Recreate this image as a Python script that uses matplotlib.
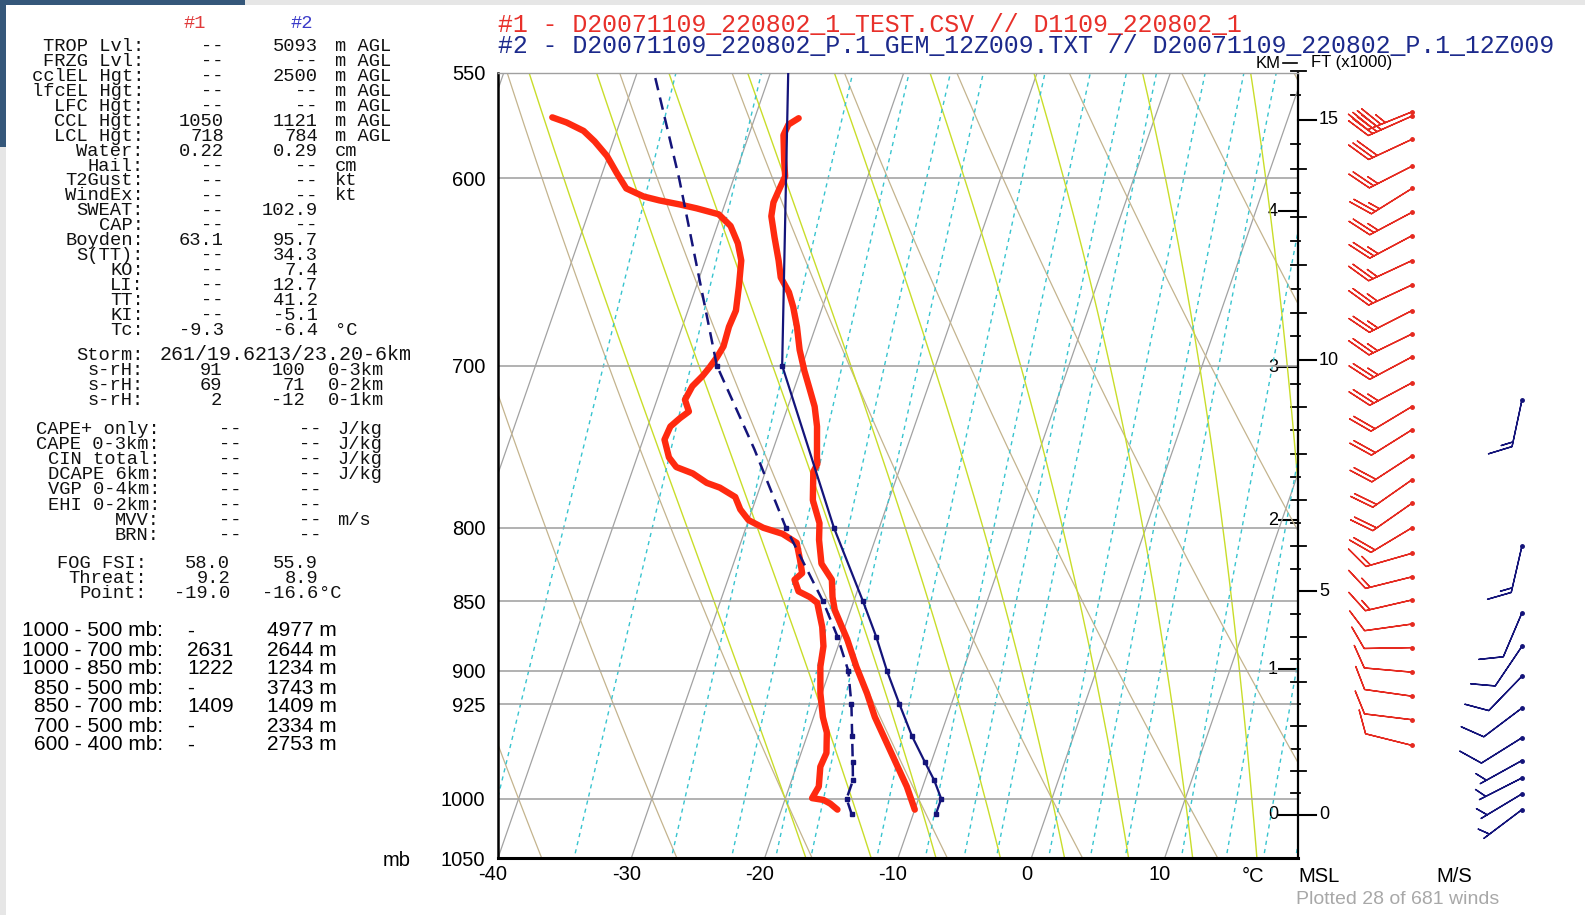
import numpy as np
import matplotlib
matplotlib.use("Agg")
import matplotlib.pyplot as plt
from matplotlib import transforms
from matplotlib.ticker import NullLocator, NullFormatter

W, H = 1585, 915

# sounding #1 (red) - temperature and dewpoint, bottom to top
p1_t = [1009, 990, 974, 953, 935, 917, 897, 877, 856, 847, 835, 824, 808, 797, 782, 764, 759, 755, 736, 724,
        714, 703, 691, 678, 667, 659, 651, 642, 630, 619, 612, 605, 599, 591, 579, 574, 571]
t1 = [-10.0, -11.2, -12.4, -14.0, -15.4, -16.6, -18.1, -19.5, -21.2, -21.7, -22.2, -23.4, -24.2, -24.6, -25.7,
      -26.4, -26.3, -26.5, -27.3, -28.0, -28.8, -29.7, -30.6, -31.4, -32.2, -32.9, -33.9, -34.5, -35.4, -36.2,
      -36.4, -36.3, -36.2, -36.7, -37.4, -37.3, -36.7]
p1_d = [1009, 1004, 1001, 999.5, 990, 974, 963, 947, 935, 917, 897, 882, 868, 851, 847, 843, 835, 830.5, 821.5, 810,
        804, 800, 795, 788, 780, 774, 771, 765, 761, 755, 744, 736, 731, 727, 720, 712, 706, 701, 695, 689,
        678, 669, 656, 642, 633, 624, 618, 615, 613, 611, 609, 605, 597.5, 589, 582, 577, 573, 570.6]
td1 = [-15.8, -16.5, -17.1, -18.0, -17.8, -18.2, -18.1, -18.6, -19.3, -20.1, -20.8, -21.1, -21.7, -22.7, -23.4,
       -24.4, -25.0, -24.6, -25.1, -25.8, -27.1, -28.7, -30.0, -30.9, -31.6, -33.0, -34.1, -35.4, -36.8, -37.6,
       -38.4, -38.3, -37.8, -37.3, -37.9, -37.7, -37.2, -36.9, -36.6, -36.4, -36.5, -36.4, -36.8, -37.3, -38.0,
       -39.0, -40.2, -42.0, -43.4, -45.0, -46.3, -47.8, -48.9, -50.1, -51.4, -52.5, -54.0, -55.2]

# sounding #2 (blue, model levels)
p2_t = [1013, 1000, 985, 970, 950, 925, 900, 875, 850, 800, 700, 500]
t2 = [-8.3, -8.3, -9.3, -10.5, -12.1, -13.9, -15.7, -17.4, -19.3, -23.4, -31.5, -41.5]
p2_d = [1013, 1000, 985, 970, 950, 925, 900, 875, 850, 800, 750, 700, 600, 500]
td2 = [-14.6, -15.4, -15.4, -15.9, -16.6, -17.5, -18.6, -20.3, -22.3, -27.0, -31.4, -36.4, -44.1, -53.8]
dew_marked = [1013, 1000, 985, 970, 950, 925, 900, 875, 850, 800, 700]

# winds (direction from, speed m/s)
p1_wind = [957, 937, 919, 901, 883, 866, 849, 833, 817, 800, 784, 769, 754, 738, 724, 710, 695, 682, 669, 655,
           642, 629, 617, 605, 594, 581, 570, 568]
dir1 = [284, 277, 278, 275, 269, 262, 257, 256, 254, 239, 235, 235, 237, 238, 239, 242, 242, 244, 243, 245,
        245, 242, 242, 238, 243, 245, 246, 248]
spd1 = [5, 5, 5, 5, 5, 5, 7.5, 7.5, 7.5, 10, 10, 10, 10, 10, 10, 12.5, 12.5, 12.5, 12.5, 12.5,
        12.5, 12.5, 12.5, 12.5, 12.5, 15, 20, 22.5]
p2_wind = [1009, 996, 983, 969, 951, 928, 904, 882, 858, 812, 720]
dir2 = [233, 239, 243, 241, 238, 233, 224, 214, 203, 193, 192]
spd2 = [2.5, 2.5, 2.5, 2.5, 5, 5, 5, 5, 5, 7.5, 7.5]

pres_labels = [550, 600, 700, 800, 850, 900, 925, 1000, 1050]
isobars = [600, 700, 800, 850, 900, 925, 1000]
temp_ticks = [-40, -30, -20, -10, 0, 10]
km_ticks = [0, 1, 2, 3, 4]
ft_major = [0, 5, 10, 15]

stats = [("TROP Lvl:", "--", "5093", "m AGL"), ("FRZG Lvl:", "--", "--", "m AGL"),
         ("cclEL Hgt:", "--", "2500", "m AGL"), ("lfcEL Hgt:", "--", "--", "m AGL"),
         ("LFC Hgt:", "--", "--", "m AGL"), ("CCL Hgt:", "1050", "1121", "m AGL"),
         ("LCL Hgt:", "718", "784", "m AGL"), ("Water:", "0.22", "0.29", "cm"),
         ("Hail:", "--", "--", "cm"), ("T2Gust:", "--", "--", "kt"), ("WindEx:", "--", "--", "kt"),
         ("SWEAT:", "--", "102.9", ""), ("CAP:", "--", "--", ""), ("Boyden:", "63.1", "95.7", ""),
         ("S(TT):", "--", "34.3", ""), ("KO:", "--", "7.4", ""), ("LI:", "--", "12.7", ""),
         ("TT:", "--", "41.2", ""), ("KI:", "--", "-5.1", ""), ("Tc:", "-9.3", "-6.4", "°C")]
helicity = [("s-rH:", "91", "100", "0-3km"), ("s-rH:", "69", "71", "0-2km"), ("s-rH:", "2", "-12", "0-1km")]
cape = [("CAPE+ only:", "--", "--", "J/kg"), ("CAPE 0-3km:", "--", "--", "J/kg"),
        ("CIN total:", "--", "--", "J/kg"), ("DCAPE 6km:", "--", "--", "J/kg"),
        ("VGP 0-4km:", "--", "--", ""), ("EHI 0-2km:", "--", "--", ""),
        ("MVV:", "--", "--", "m/s"), ("BRN:", "--", "--", "")]
fog = [("FOG FSI:", "58.0", "55.9", ""), ("Threat:", "9.2", "8.9", ""), ("Point:", "-19.0", "-16.6", "°C")]
thick = [("1000 - 500 mb:", "-", "4977 m"), ("1000 - 700 mb:", "2631", "2644 m"),
         ("1000 - 850 mb:", "1222", "1234 m"), ("850 - 500 mb:", "-", "3743 m"),
         ("850 - 700 mb:", "1409", "1409 m"), ("700 - 500 mb:", "-", "2334 m"),
         ("600 - 400 mb:", "-", "2753 m")]

RED = "#ff2a10"
NAVY = "#14147a"
MONO = ["Liberation Mono", "DejaVu Sans Mono"]
SANS = ["Liberation Sans", "DejaVu Sans"]
K = 31.6  # skew of isotherms
FS = 13.5


def skew(t, p):
    return np.asarray(t, float) + K * np.log(1050.0 / np.asarray(p, float))


def p_std(z):
    return 1013.25 * (1 - 0.0065 * z / 288.15) ** 5.2559


def es(t):
    return 6.112 * np.exp(17.67 * t / (t + 243.5))


def dtdp(t, p):
    tk = t + 273.15
    e = es(t)
    rs = 0.622 * e / (p - e)
    return (287.04 * tk + 2.501e6 * rs) / (1005.7 + 2.501e6 ** 2 * rs * 0.622 / (287.04 * tk ** 2)) / p


def moist(tw):
    parts = []
    for ps in (np.linspace(1000, 540, 231), np.linspace(1000, 1060, 31)):
        t = tw
        ts = [t]
        for a, b in zip(ps[:-1], ps[1:]):
            h = b - a
            k1 = dtdp(t, a)
            k2 = dtdp(t + h * k1 / 2, a + h / 2)
            k3 = dtdp(t + h * k2 / 2, a + h / 2)
            k4 = dtdp(t + h * k3, b)
            t = t + h * (k1 + 2 * k2 + 2 * k3 + k4) / 6
            ts.append(t)
        parts.append((ps, np.array(ts)))
    p = np.concatenate([parts[1][0][::-1], parts[0][0][1:]])
    t = np.concatenate([parts[1][1][::-1], parts[0][1][1:]])
    return p, t


fig = plt.figure(figsize=(W / 100, H / 100), dpi=100)
ov = fig.add_axes([0, 0, 1, 1])
ov.set_xlim(0, W)
ov.set_ylim(H, 0)
ov.axis("off")

# screenshot borders
ov.add_patch(plt.Rectangle((0, 0), W, 5, color="#e6e6e6", lw=0))
ov.add_patch(plt.Rectangle((0, 0), 6, H, color="#e6e6e6", lw=0))
ov.add_patch(plt.Rectangle((0, 0), 245, 5, color="#35577a", lw=0))
ov.add_patch(plt.Rectangle((0, 0), 6, 147, color="#35577a", lw=0))

L, R, T, B = 498, 1298, 72.7, 858
ax = fig.add_axes([L / W, 1 - B / H, (R - L) / W, (B - T) / H])
ax.set_facecolor("none")
ax.set_yscale("log")
ax.set_ylim(1050, 550)
ax.set_xlim(-40, 20)
ax.yaxis.set_minor_locator(NullLocator())
ax.yaxis.set_minor_formatter(NullFormatter())

pp = np.linspace(1060, 540, 200)
for tt in range(-70, 30, 10):
    ax.plot(skew(np.full_like(pp, tt), pp), pp, color="#a2a2a2", lw=0.9, zorder=1)
for th in range(-40, 70, 10):
    ax.plot(skew((th + 273.15) * (pp / 1000) ** 0.2857 - 273.15, pp), pp, color="#c4b48e", lw=0.9, zorder=1)
for tw in range(-20, 30, 5):
    mp, mt = moist(tw)
    ax.plot(skew(mt, mp), mp, color="#c9dd2a", lw=1.0, zorder=1)
for w in [0.1, 0.2, 0.4, 0.6, 0.8, 1, 1.5, 2, 2.5, 3, 4, 5, 6, 8, 10, 12, 14, 16, 20]:
    e = w * pp / (622 + w)
    lg = np.log(e / 6.112)
    ax.plot(skew(243.5 * lg / (17.67 - lg), pp), pp, color="#38c4cf", lw=1.0, ls=(0, (3, 3)), zorder=1)
for p in isobars:
    ax.axhline(p, color="#a4a4a4", lw=1.2, zorder=1.5)

ax.plot(skew(t1, p1_t), p1_t, color=RED, lw=4.6, solid_capstyle="round", solid_joinstyle="round", zorder=3)
ax.plot(skew(td1, p1_d), p1_d, color=RED, lw=4.6, solid_capstyle="round", solid_joinstyle="round", zorder=3)
ax.plot(skew(t2, p2_t), p2_t, color=NAVY, lw=1.6, marker="s", ms=3.2, zorder=4)
ax.plot(skew(td2, p2_d), p2_d, color=NAVY, lw=1.8, ls=(0, (5, 3)), zorder=4,
        marker="s", ms=3.2, markevery=[i for i, p in enumerate(p2_d) if p in dew_marked])

ax.set_yticks(pres_labels, labels=[str(p) for p in pres_labels])
ax.set_xticks(temp_ticks, labels=[str(t) for t in temp_ticks])
ax.tick_params(axis="y", length=0, pad=9, labelsize=14.5)
ax.tick_params(axis="x", length=0, pad=5, labelsize=14.5)
shift = transforms.ScaledTranslation(-5 / 100, 0, fig.dpi_scale_trans)
for lab in ax.get_xticklabels():
    lab.set_transform(lab.get_transform() + shift)
for lab in ax.get_xticklabels() + ax.get_yticklabels():
    lab.set_family(SANS)
ax.spines["left"].set_linewidth(1.8)
ax.spines["bottom"].set_linewidth(2.2)
ax.spines["right"].set_linewidth(1.6)
ax.spines["top"].set_color("#a0a0a0")
ax.spines["top"].set_linewidth(1.0)

# height axis on the right
blend = transforms.blended_transform_factory(ov.transData, ax.transData)
for z in km_ticks:
    p = p_std(z * 1000)
    ov.plot([1279, 1298], [p, p], color="k", lw=1.5, transform=blend, clip_on=False, zorder=5)
    ov.text(1278, p, str(z), transform=blend, ha="right", va="center", fontsize=13, family=SANS,
            zorder=5, bbox=dict(facecolor="white", edgecolor="none", pad=0.3))
for kft in np.arange(0.5, 16.5, 0.5):
    p = p_std(kft * 304.8)
    if kft in ft_major:
        continue
    x0, x1 = (1291, 1306) if kft == int(kft) else (1291, 1300)
    ov.plot([x0, x1], [p, p], color="k", lw=1.3, transform=blend, clip_on=False, zorder=5)
for f in ft_major:
    p = p_std(f * 304.8)
    ov.plot([1298, 1316], [p, p], color="k", lw=1.5, transform=blend, clip_on=False, zorder=5)
    ov.text(1319, p, str(f), transform=blend, ha="left", va="center", fontsize=13, family=SANS)


def uv(d, s):
    r = np.radians(d)
    return -np.asarray(s) * np.sin(r), -np.asarray(s) * np.cos(r)


u1, v1 = uv(dir1, spd1)
u2, v2 = uv(dir2, spd2)
inc = dict(half=2.5, full=5, flag=50)
sz = dict(spacing=0.1, height=0.45, width=0.5)
ov.barbs([1412] * len(p1_wind), p1_wind, u1, v1, transform=blend, length=8.3, color="#e52a20", lw=1.0,
         barb_increments=inc, sizes=sz, clip_on=False)
ov.barbs([1522] * len(p2_wind), p2_wind, u2, v2, transform=blend, length=8.3, color=NAVY, lw=1.0,
         barb_increments=inc, sizes=sz, clip_on=False)
ov.plot([1412] * len(p1_wind), p1_wind, "o", ms=2.5, color="#e52a20", transform=blend)
ov.plot([1522] * len(p2_wind), p2_wind, "o", ms=2.5, color=NAVY, transform=blend)

# headers and axis words
ov.text(498, 25, "#1 - D20071109_220802_1_TEST.CSV // D1109_220802_1", color="#e8302a",
        family=MONO, fontsize=17.9, va="center")
ov.text(498, 46.5, "#2 - D20071109_220802_P.1_GEM_12Z009.TXT // D20071109_220802_P.1_12Z009", color="#1c2a8c",
        family=MONO, fontsize=17.9, va="center")
ov.text(1281, 63, "KM", ha="right", va="center", fontsize=12, family=SANS)
ov.plot([1283, 1297], [63, 63], color="k", lw=1.2)
ov.text(1311, 63, "FT (x1000)", ha="left", va="center", fontsize=12, family=SANS)
ov.text(397, 860, "mb", ha="center", va="center", fontsize=14.5, family=SANS)
ov.text(1253, 876, "°C", ha="center", va="center", fontsize=14.5, family=SANS)
ov.text(1319, 876, "MSL", ha="center", va="center", fontsize=14.5, family=SANS)
ov.text(1454, 876, "M/S", ha="center", va="center", fontsize=14.5, family=SANS)
ov.text(1398, 899, "Plotted 28 of 681 winds", ha="center", va="center", fontsize=14, color="#a8a8a8",
        family=SANS)

# stats panel
ov.text(195, 23, "#1", color="#e03a3a", family=MONO, fontsize=FS, ha="center", va="center")
ov.text(302, 23, "#2", color="#3a3ac8", family=MONO, fontsize=FS, ha="center", va="center")


def row(y, lab, a, b, unit, xl=144, xa=224, xb=318, xu=335):
    kw = dict(va="center", family=MONO, fontsize=FS, color="#111111")
    ov.text(xl, y, lab, ha="right", **kw)
    ov.text(xa, y, a, ha="right", **kw)
    ov.text(xb, y, b, ha="right", **kw)
    if unit:
        ov.text(xu, y, unit, ha="left", **kw)


for i, r in enumerate(stats):
    row(46.7 + 14.92 * i, *r)
ov.text(144, 355, "Storm:", ha="right", va="center", family=MONO, fontsize=FS, color="#111111")
ov.text(160, 355, "261/19.6213/23.20-6km", ha="left", va="center", family=MONO, fontsize=FS + 0.9,
        color="#111111")
for i, r in enumerate(helicity):
    row(370.5 + 15 * i, *r, xa=222, xb=305, xu=328)
for i, r in enumerate(cape):
    row(429.5 + 15.1 * i, *r, xl=160, xa=242, xb=322, xu=337)
for i, r in enumerate(fog):
    row(563.3 + 15 * i, *r, xl=147, xa=230, xb=318, xu=319)
for i, (lab, a, b) in enumerate(thick):
    y = 631 + 19 * i
    ov.text(163, y, lab, ha="right", va="center", family=SANS, fontsize=15)
    ov.text(187, y, a, ha="left", va="center", family=SANS, fontsize=15)
    ov.text(337, y, b, ha="right", va="center", family=SANS, fontsize=15)

fig.savefig("out.png", dpi=100)
